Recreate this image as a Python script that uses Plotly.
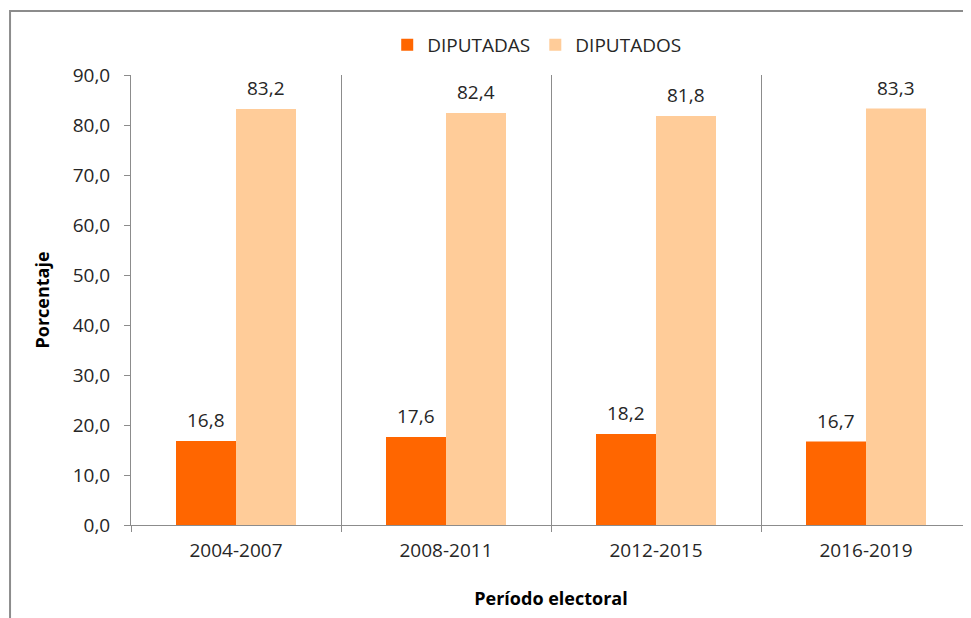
import plotly.graph_objects as go

periods = ["2004-2007", "2008-2011", "2012-2015", "2016-2019"]
diputadas = [16.8, 17.6, 18.2, 16.7]
diputados = [83.2, 82.4, 81.8, 83.3]
y_ticks = [0, 10, 20, 30, 40, 50, 60, 70, 80, 90]

ORANGE = "#FF6600"
PEACH = "#FFCC99"
GRAY = "#8C8C8C"
FONT = "Open Sans"
TEXT = "#262626"

fig = go.Figure()
fig.add_trace(go.Bar(x=periods, y=diputadas, name="DIPUTADAS",
                     marker=dict(color=ORANGE, line=dict(width=0))))
fig.add_trace(go.Bar(x=periods, y=diputados, name="DIPUTADOS",
                     marker=dict(color=PEACH, line=dict(width=0))))

# value labels above each bar
for i, p in enumerate(periods):
    for val, shift in ((diputadas[i], -30), (diputados[i], 30)):
        fig.add_annotation(x=p, y=val, text=f"{val:.1f}".replace(".", ","),
                           showarrow=False, xshift=shift, yshift=21,
                           yanchor="middle", font=dict(size=19, color=TEXT, family=FONT))

# outer frame of the chart area
fig.add_shape(type="rect", xref="paper", yref="paper",
              x0=-0.144, x1=1.2, y0=-0.4, y1=1.142,
              line=dict(color=GRAY, width=2), fillcolor="rgba(0,0,0,0)", layer="below")

# page body has an 8px margin, so the figure is shrunk by that much
fig.update_layout(
    width=963, height=610,
    margin=dict(l=123, r=0, t=67, b=93),
    paper_bgcolor="white", plot_bgcolor="white",
    barmode="group", bargap=0.4286, bargroupgap=0,
    separators=",.",
    font=dict(family=FONT, size=19, color=TEXT),
    showlegend=True,
    legend=dict(orientation="h", x=0.483, xanchor="center", y=1.067, yanchor="middle",
                font=dict(size=19, color=TEXT, family=FONT), itemwidth=30,
                bgcolor="rgba(0,0,0,0)"),
    xaxis=dict(tickson="boundaries", showgrid=True, gridcolor=GRAY, gridwidth=1,
               showline=True, linecolor=GRAY, linewidth=1,
               ticks="outside", ticklen=6, tickcolor=GRAY, ticklabelstandoff=8,
               tickfont=dict(size=19, color=TEXT),
               title=dict(text="<b>Período electoral</b>", font=dict(size=18, color="black"), standoff=30)),
    yaxis=dict(range=[0, 90], tickvals=y_ticks, tickformat=".1f",
               showgrid=False, zeroline=False,
               showline=True, linecolor=GRAY, linewidth=1,
               ticks="outside", ticklen=6, tickcolor=GRAY, ticklabelstandoff=10,
               tickfont=dict(size=19, color=TEXT),
               title=dict(text="<b>Porcentaje</b>", font=dict(size=18, color="black"), standoff=18)),
)

fig.write_html("out.html")
